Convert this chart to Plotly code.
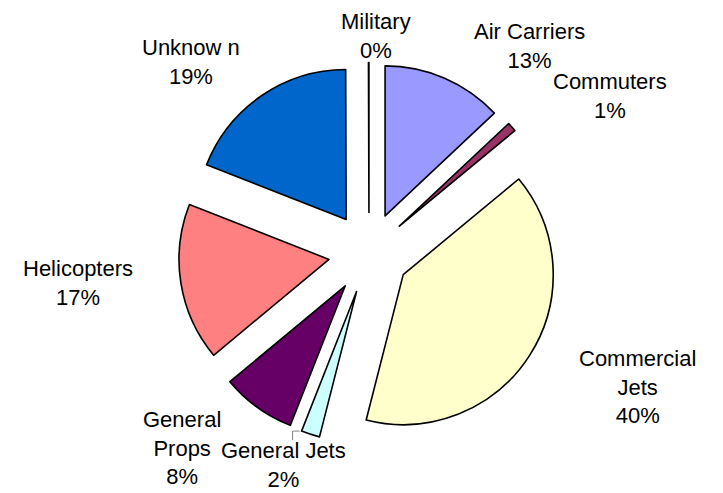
import math
import plotly.graph_objects as go

labels = ["Air Carriers", "Commuters", "Commercial<br>Jets", "General Jets",
          "General<br>Props", "Helicopters", "Unknow n", "Military"]
values = [13, 1, 40, 2, 8, 17, 19, 0.05]
colors = ["#9999FF", "#993366", "#FFFFCC", "#CCFFFF",
          "#660066", "#FF8080", "#0066CC", "#FFFFFF"]

W, H = 723, 493
r_px = 150
pull = 0.27
dom_h = 2 * r_px * (1 + pull)
pcx, pcy = 361, 245
y0 = (H - pcy - dom_h / 2) / H
y1 = (H - pcy + dom_h / 2) / H
x0 = (pcx - dom_h / 2) / W
x1 = (pcx + dom_h / 2) / W

fig = go.Figure(go.Pie(
    labels=labels,
    values=values,
    sort=False,
    direction="clockwise",
    rotation=0,
    pull=[pull] * len(values),
    marker=dict(colors=colors, line=dict(color="black", width=1.6)),
    textinfo="none",
    showlegend=False,
    hoverinfo="label+percent",
    domain=dict(x=[x0, x1], y=[y0, y1]),
))

# labels placed around the pie on an ellipse at slice mid-angles, with small nudges
total = sum(values)
lcx, lcy = 365, 250
rx, ry = 300, 230
nudge_x = [37, 12, 11, 3, -15, 1, -13, 3]
nudge_y = [-1, -10, 6, -12, 4, -11, -6, 8]
font = dict(family="Liberation Sans, Arial, sans-serif", size=22, color="black")
cum = 0.0
slice_bounds = []
for lab, v, nx, ny in zip(labels, values, nudge_x, nudge_y):
    a0 = cum / total * 2 * math.pi
    mid = (cum + v / 2) / total * 2 * math.pi
    cum += v
    a1 = cum / total * 2 * math.pi
    slice_bounds.append((a0, mid, a1))
    px = lcx + rx * math.sin(mid) + nx
    py = lcy - ry * math.cos(mid) + ny
    pct = round(v / total * 100)
    fig.add_annotation(
        x=px / W, y=1 - py / H, xref="paper", yref="paper",
        text=f"{lab}<br>{pct}%", showarrow=False,
        xanchor="center", yanchor="middle", align="center", font=font,
    )

# small leader line from the General Jets slice corner toward its label
a0, mid, a1 = slice_bounds[3]
off = pull * r_px
cx_s = pcx + off * math.sin(mid)
cy_s = pcy - off * math.cos(mid)
kx = cx_s + r_px * math.sin(a1) - 2
ky = cy_s - r_px * math.cos(a1)
fig.add_shape(
    type="path", xref="paper", yref="paper",
    path=(f"M {kx/W},{1-ky/H} L {(kx-7)/W},{1-ky/H} "
          f"L {(kx-7)/W},{1-(ky+9)/H}"),
    line=dict(color="#808080", width=1),
)

fig.update_layout(
    width=W, height=H,
    margin=dict(l=0, r=0, t=0, b=0),
    paper_bgcolor="white",
    plot_bgcolor="white",
)

fig.write_html("out.html")
